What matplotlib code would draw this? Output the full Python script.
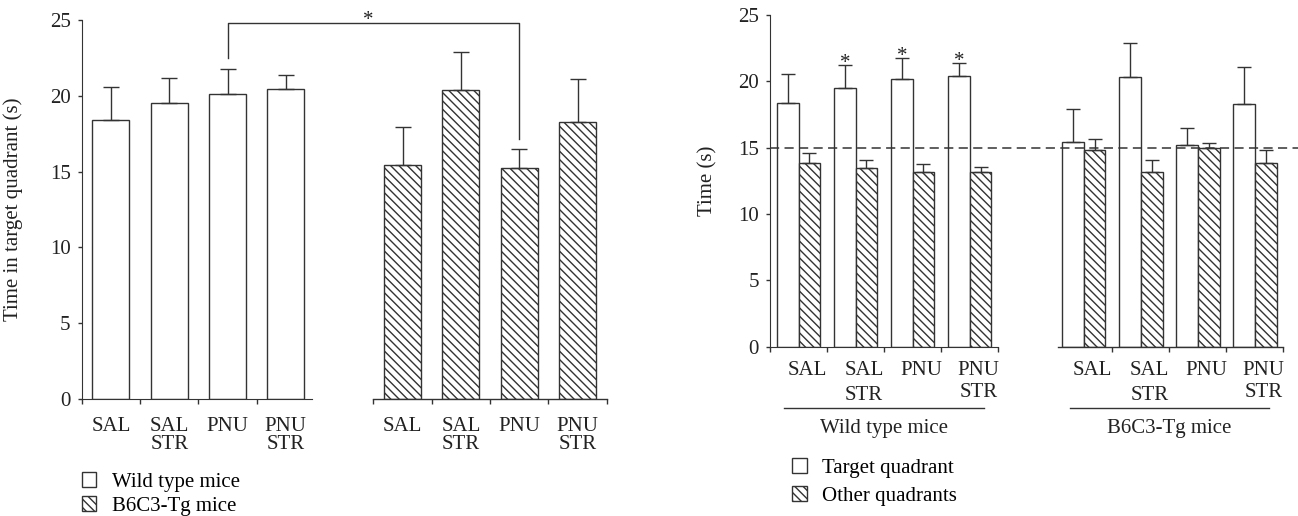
import numpy as np
import matplotlib
matplotlib.use("Agg")
import matplotlib.pyplot as plt
import matplotlib.transforms as mtransforms
from matplotlib.patches import Patch

plt.rcParams["font.family"] = ["Liberation Serif", "DejaVu Serif"]
plt.rcParams["hatch.linewidth"] = 1.0

# data (seconds)
groups = ["SAL", "SAL\nSTR", "PNU", "PNU\nSTR"]
wt_target = [18.40, 19.50, 20.15, 20.42]
wt_target_err = [2.15, 1.70, 1.60, 0.93]
tg_target = [15.42, 20.35, 15.21, 18.29]
tg_target_err = [2.52, 2.51, 1.26, 2.82]
wt_other = [13.87, 13.49, 13.19, 13.19]
wt_other_err = [0.70, 0.56, 0.55, 0.33]
tg_other = [14.85, 13.19, 14.97, 13.88]
tg_other_err = [0.83, 0.86, 0.40, 0.94]
chance_level = 15
wt_star = [False, True, True, True]

ec = "#333333"
tc = "#222222"
hatch = "\\\\\\\\"
fs = 15

wt_pos = np.arange(4)
tg_pos = np.arange(4) + 5

W, H = 1298, 516
fig = plt.figure(figsize=(W / 100, H / 100), dpi=100)


def style_axis(ax, seg1, seg2, minor, xpad):
    for s in ["top", "right"]:
        ax.spines[s].set_visible(False)
    ax.spines["left"].set_color(ec)
    ax.spines["bottom"].set_color(ec)
    ax.spines["bottom"].set_bounds(*seg1)
    ax.plot(seg2, [0, 0], color=ec, lw=1, clip_on=False)
    ax.set_ylim(0, 25)
    ax.set_yticks([0, 5, 10, 15, 20, 25])
    ax.tick_params(axis="y", direction="out", length=3, width=1, pad=5,
                   labelsize=fs, colors=ec, labelcolor=tc)
    ax.set_xticks(minor, minor=True)
    ax.tick_params(axis="x", which="minor", direction="out", length=3.5,
                   width=1, color=ec)
    ax.tick_params(axis="x", which="major", length=0, pad=xpad,
                   labelsize=fs, labelcolor=tc)


# ---------------- left panel ----------------
ax1 = fig.add_axes([81.7 / W, 117 / H, 525 / W, 379 / H])
bw = 0.63
ax1.bar(wt_pos, wt_target, bw, color="white", edgecolor=ec, lw=1)
ax1.bar(tg_pos, tg_target, bw, color="white", edgecolor=ec, lw=1, hatch=hatch)
ax1.errorbar(wt_pos, wt_target, yerr=[np.zeros(4), wt_target_err], fmt="none",
             ecolor=ec, elinewidth=1, capsize=5.5, capthick=1)
ax1.errorbar(tg_pos, tg_target, yerr=[np.zeros(4), tg_target_err], fmt="none",
             ecolor=ec, elinewidth=1, capsize=5.5, capthick=1)
ax1.set_xlim(-0.5, 8.5)
minor1 = np.concatenate([wt_pos - 0.5, tg_pos - 0.5, [tg_pos[-1] + 0.5]])
style_axis(ax1, (-0.5, wt_pos[-1] + 0.45), [tg_pos[0] - 0.5, tg_pos[-1] + 0.5], minor1, 13)
ax1.set_xticks(np.concatenate([wt_pos, tg_pos]))
ax1.set_xticklabels(groups + groups, linespacing=0.95)
ax1.set_ylabel("Time in target quadrant (s)", fontsize=fs, color=tc)
ax1.yaxis.set_label_coords(-0.112, 0.5)

# significance bracket between PNU groups
top = 24.8
y_l = wt_target[2] + wt_target_err[2] + 0.75
y_r = tg_target[2] + tg_target_err[2] + 0.65
ax1.plot([wt_pos[2], wt_pos[2], tg_pos[2], tg_pos[2]], [y_l, top, top, y_r],
         color=ec, lw=1, clip_on=False)
ax1.text((wt_pos[2] + tg_pos[2]) / 2 - 0.08, top - 0.1, "*", ha="center",
         va="baseline", fontsize=fs, color=tc)

ax1.legend(handles=[Patch(facecolor="white", edgecolor=ec, label="Wild type mice"),
                    Patch(facecolor="white", edgecolor=ec, hatch=hatch, label="B6C3-Tg mice")],
           loc="center left", bbox_to_anchor=(81.7 / W, (H - 494) / H),
           bbox_transform=fig.transFigure, frameon=False, borderpad=0,
           borderaxespad=0, handlelength=0.7, handleheight=0.7,
           handletextpad=0.75, labelspacing=0.22, fontsize=fs)

# ---------------- right panel ----------------
ax2 = fig.add_axes([770 / W, 169.3 / H, 528 / W, 331.7 / H])
bw2 = 0.38
off = bw2 / 2
for pos, tv, te, ov, oe in [(wt_pos, wt_target, wt_target_err, wt_other, wt_other_err),
                            (tg_pos, tg_target, tg_target_err, tg_other, tg_other_err)]:
    ax2.bar(pos - off, tv, bw2, color="white", edgecolor=ec, lw=1)
    ax2.bar(pos + off, ov, bw2, color="white", edgecolor=ec, lw=1, hatch=hatch)
    ax2.errorbar(pos - off, tv, yerr=[np.zeros(4), te], fmt="none", ecolor=ec,
                 elinewidth=1, capsize=5, capthick=1)
    ax2.errorbar(pos + off, ov, yerr=[np.zeros(4), oe], fmt="none", ecolor=ec,
                 elinewidth=1, capsize=5, capthick=1)

ax2.axhline(chance_level, color=ec, lw=1.1, ls=(0, (6, 3.5)), zorder=5)
ax2.set_xlim(-0.5, 8.755)
minor2 = np.concatenate([wt_pos - 0.5, [wt_pos[-1] + 0.5], tg_pos + 0.5])
style_axis(ax2, (-0.5, wt_pos[-1] + 0.5), [tg_pos[0] - 0.45, tg_pos[-1] + 0.5], minor2, 10.5)
ax2.set_xticks(np.concatenate([wt_pos, tg_pos]) + 0.15)
ax2.set_xticklabels(groups + groups)
for i, lab in enumerate(ax2.get_xticklabels()):
    lab.set_linespacing(1.42 if i % 4 == 1 else 1.22)
ax2.set_ylabel("Time (s)", fontsize=fs, color=tc)
ax2.yaxis.set_label_coords(-0.1, 0.5)

for i in range(4):
    if wt_star[i]:
        ax2.text(wt_pos[i] - off, wt_target[i] + wt_target_err[i] - 0.2, "*",
                 ha="center", va="baseline", fontsize=fs, color=tc)

trans = mtransforms.blended_transform_factory(ax2.transData, ax2.transAxes)
for pos, name in [(wt_pos, "Wild type mice"), (tg_pos, "B6C3-Tg mice")]:
    ax2.plot([pos[0] - 0.25, pos[-1] + 0.25], [-0.185, -0.185], color=ec, lw=1,
             transform=trans, clip_on=False)
    ax2.text(pos.mean(), -0.248, name, transform=trans, ha="center",
             va="center", fontsize=fs, color=tc)

ax2.legend(handles=[Patch(facecolor="white", edgecolor=ec, label="Target quadrant"),
                    Patch(facecolor="white", edgecolor=ec, hatch=hatch, label="Other quadrants")],
           loc="center left", bbox_to_anchor=(792 / W, (H - 482) / H),
           bbox_transform=fig.transFigure, frameon=False, borderpad=0,
           borderaxespad=0, handlelength=0.7, handleheight=0.7,
           handletextpad=0.75, labelspacing=0.42, fontsize=fs)

fig.savefig("out.png", dpi=100)
